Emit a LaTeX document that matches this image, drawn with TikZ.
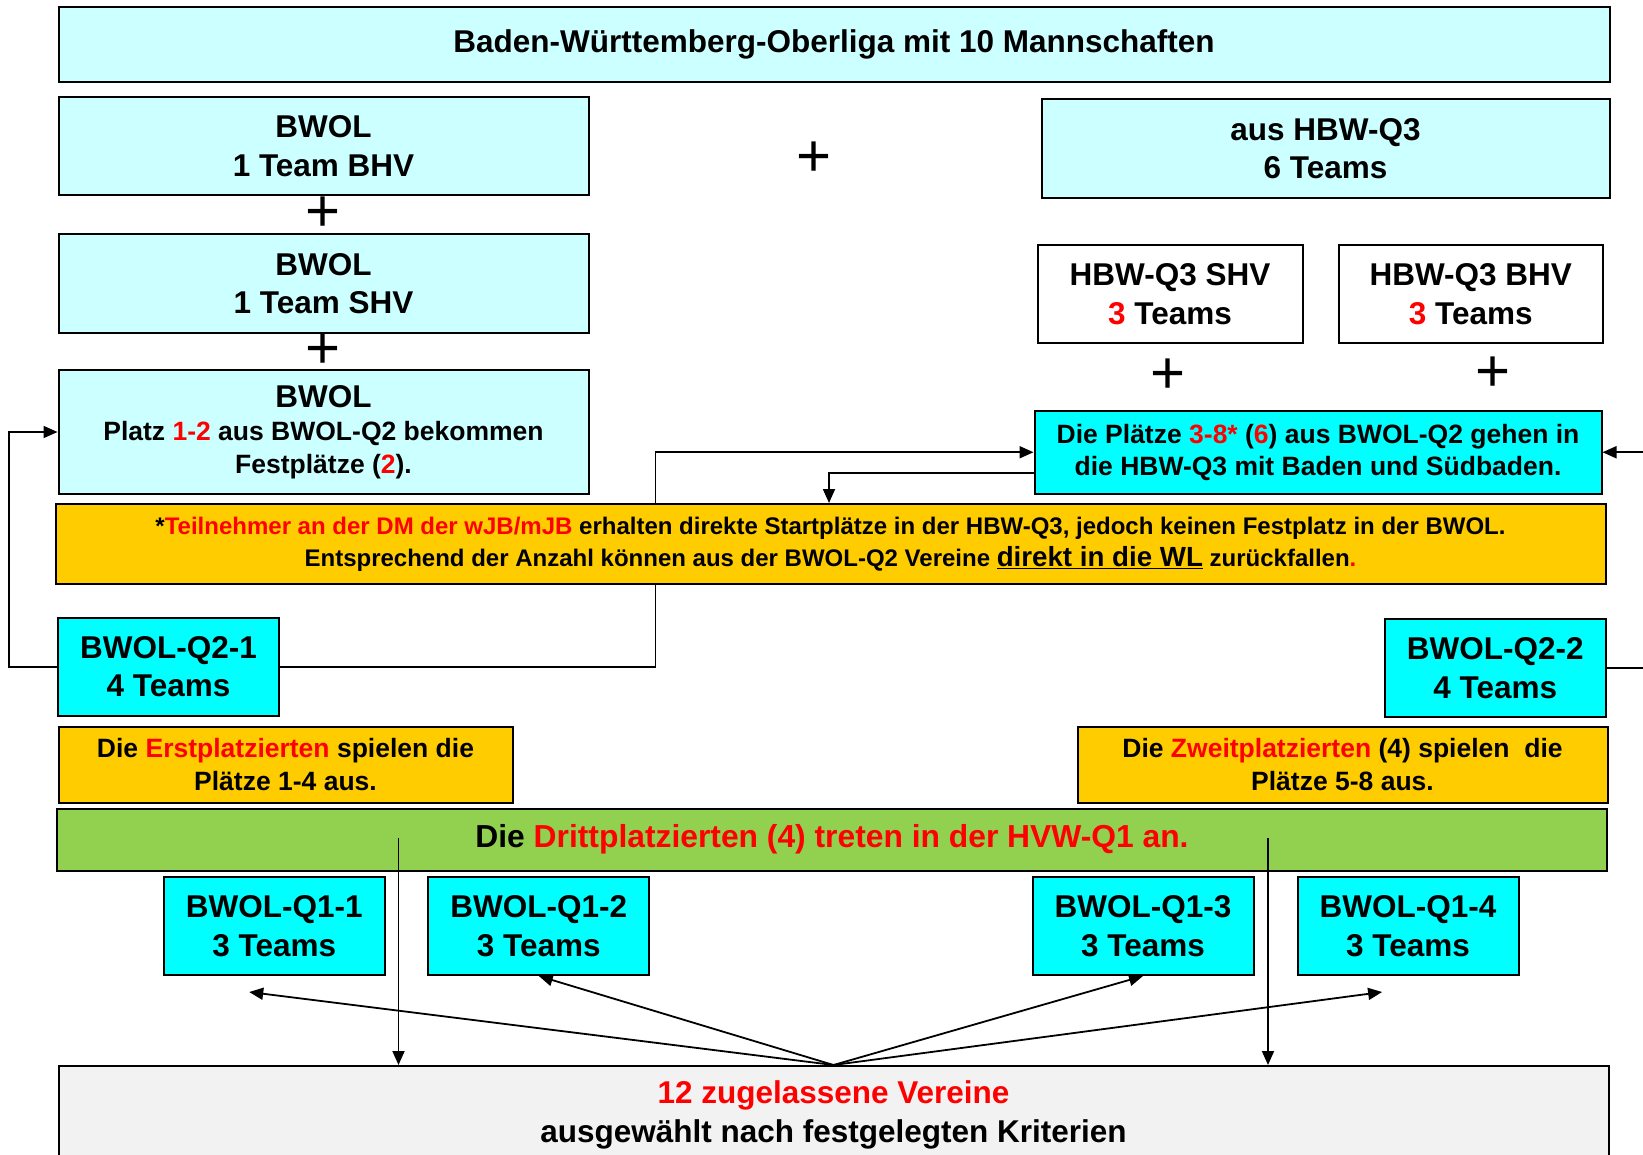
\documentclass[tikz,border=0pt]{standalone}
\usepackage{fontspec}
\setmainfont{Liberation Sans}
\usepackage{xcolor}
\definecolor{hellcyan_hv}{HTML}{CCFFFF}
\definecolor{cyan_hv}{HTML}{00FFFF}
\definecolor{gold_hv}{HTML}{FFCC00}
\definecolor{gruen_hv}{HTML}{92D050}
\definecolor{grau_hv}{HTML}{F2F2F2}
\definecolor{rot_hv}{HTML}{FF0000}
\usepackage{tikz}
\usetikzlibrary{calc,arrows.meta,positioning,backgrounds}
\newcommand{\rottext}[1]{\textcolor{rot_hv}{#1}}

\begin{document}
\begin{tikzpicture}
[	x=1pt, y=-1pt,
	kasten/.style = {draw, line width=2pt, align=center, inner sep=0pt, anchor=north west},
	hell/.style = {kasten, fill=hellcyan_hv},
	tuerkis/.style = {kasten, fill=cyan_hv},
	gelb/.style = {kasten, fill=gold_hv},
	gross/.style = {font=\bfseries\fontsize{31.5}{38.5}\selectfont},
	mittel/.style = {font=\bfseries\fontsize{26.5}{32.5}\selectfont},
	klein/.style = {font=\bfseries\fontsize{24}{32}\selectfont},
	plus/.style = {font=\fontsize{60}{60}\selectfont, inner sep=0pt},
	pfeil/.style = {line width=1.8pt, -{Triangle[length=14pt,width=12pt]}}
]
\useasboundingbox (0,0) rectangle (1643,1154);

% Oberliga
\node[hell, gross, minimum width=1551, minimum height=75] (titel) at (57.5,6) {\raisebox{-2pt}{Baden-Württemberg-Oberliga mit 10 Mannschaften}};

% linke Spalte
\node[hell, gross, minimum width=530, minimum height=98] (bwol1) at (57.5,96) {BWOL\\1 Team BHV};
\node[hell, gross, minimum width=530, minimum height=99] (bwol2) at (57.5,233) {BWOL\\1 Team SHV};
\node[hell, mittel, minimum width=530, minimum height=124] (bwol3) at (57.5,369) {{\fontsize{31.5}{38.5}\selectfont BWOL}\\[1pt]Platz \rottext{1-2} aus BWOL-Q2 bekommen\\Festplätze (\rottext{2}).};

\node[plus] (plus1) at ($(bwol1.south)!0.5!(bwol2.north)$) {+};
\node[plus] (plus2) at ($(bwol2.south)!0.5!(bwol3.north)$) {+};
\node[plus] (plus3) at (814,159) {+};

% rechte Spalte
\node[hell, gross, minimum width=568, minimum height=99] (hbw) at (1040.5,98) {aus HBW-Q3\\6 Teams};
\node[kasten, gross, fill=white, minimum width=265, minimum height=98] (hbwshv) at (1036.5,244) {HBW-Q3 SHV\\\rottext{3} Teams};
\node[kasten, gross, fill=white, minimum width=264.5, minimum height=98] (hbwbhv) at (1337.5,244) {HBW-Q3 BHV\\\rottext{3} Teams};
\node[tuerkis, mittel, minimum width=567, minimum height=83.5] (plaetze) at (1033.5,409.5) {Die Plätze \rottext{3-8*} (\rottext{6}) aus BWOL-Q2 gehen in\\die HBW-Q3 mit Baden und Südbaden.};
\node[plus] (plus4) at (1168,376) {+};
\node[plus] (plus5) at (1493,374) {+};

% Hinweis
\node[gelb, klein, minimum width=1550, minimum height=80] (hinweis) at (54.5,503) {*\rottext{Teilnehmer an der DM der wJB/mJB} erhalten direkte Startplätze in der HBW-Q3, jedoch keinen Festplatz in der BWOL.\\Entsprechend der Anzahl können aus der BWOL-Q2 Vereine {\fontsize{27.7}{32}\selectfont\underline{direkt in die WL}} zurückfallen\rottext{.}};

% Q2
\node[tuerkis, gross, minimum width=221, minimum height=97.5] (q21) at (57,617) {BWOL-Q2-1\\4 Teams};
\node[tuerkis, gross, minimum width=220.5, minimum height=98] (q22) at (1384,618) {BWOL-Q2-2\\4 Teams};
\node[gelb, mittel, minimum width=454, minimum height=75.5] (erst) at (57.5,726) {Die \rottext{Erstplatzierten} spielen die\\Plätze 1-4 aus.};
\node[gelb, mittel, minimum width=530, minimum height=75.5] (zweit) at (1076.5,726) {Die \rottext{Zweitplatzierten} (4) spielen\ \ die\\Plätze 5-8 aus.};
\node[kasten, gross, fill=gruen_hv, minimum width=1550, minimum height=62] (dritt) at (56,807.5) {\fontsize{31.8}{38.5}\selectfont Die \rottext{Drittplatzierten (4) treten in der HVW-Q1 an.}};

% Q1
\foreach \x/\n in {162.7/1, 427.3/2, 1031.5/3, 1296.6/4}
	\node[tuerkis, gross, minimum width=221, minimum height=98] (q1\n) at (\x,876) {BWOL-Q1-\n\\3 Teams};

\node[kasten, gross, fill=grau_hv, minimum width=1550, minimum height=98] (vereine) at (57.5,1065) {\rottext{12 zugelassene Vereine}\\ausgewählt nach festgelegten Kriterien};

% Verbindungen
\draw[pfeil] (q21.west) -- ++(-48,0) |- (bwol3.west);
\begin{scope}[on background layer]
\draw[pfeil] (q21.east) -| ($(plaetze.west)+(-378,0)$) -- (plaetze.west);
\end{scope}
\coordinate (knick) at (829,0);
\draw[pfeil] ($(plaetze.west)+(0,20.5)$) -| (hinweis.north -| knick);
\draw[pfeil] (q22.east) -- ++(60,0) |- (plaetze.east);

% Drittplatzierte
\coordinate (dl) at (398.5,838);
\coordinate (dr) at (1268,838);
\draw[pfeil] (dl) -- (dl |- vereine.north);
\draw[pfeil] (dr) -- (dr |- vereine.north);

% Vereine verteilen
\draw[pfeil] (vereine.north) -- ($(q11.south)+(-25,16)$);
\draw[pfeil] (vereine.north) -- (q12.south);
\draw[pfeil] (vereine.north) -- (q13.south);
\draw[pfeil] (vereine.north) -- ($(q14.south)+(-26,16)$);

\end{tikzpicture}
\end{document}
